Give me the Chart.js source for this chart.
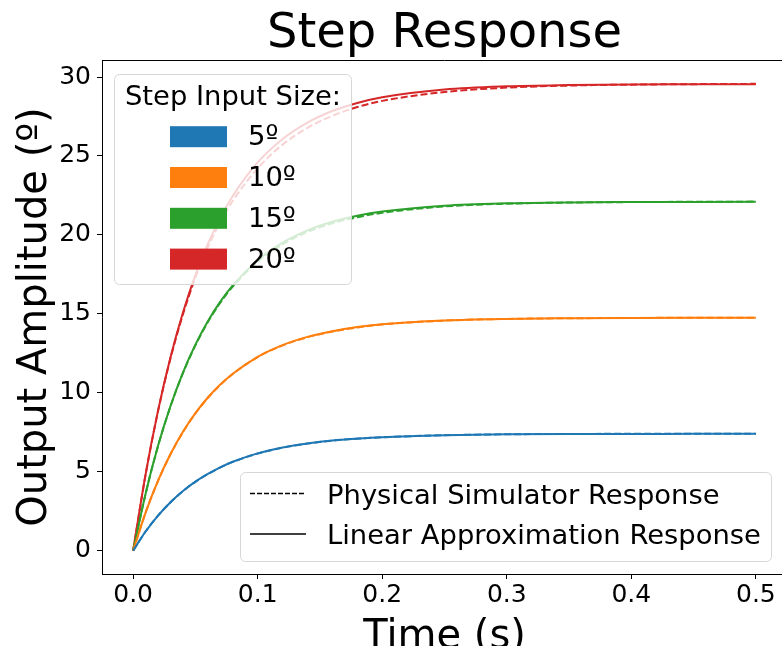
<!DOCTYPE html>
<html>
<head>
<meta charset="utf-8">
<script src="https://cdn.jsdelivr.net/npm/chart.js@4.4.1/dist/chart.umd.min.js"></script>
<style>
  html, body { margin: 0; padding: 0; background: #fff; overflow: hidden; }
  #wrap { width: 782px; height: 646px; overflow: hidden; }
  canvas { display: block; }
</style>
</head>
<body>
<div id="wrap"><canvas id="stepChart" width="800" height="680"></canvas></div>
<script>
// Tempi di campionamento (s)
const timeS = [0, 0.01, 0.02, 0.03, 0.04, 0.05, 0.06, 0.07, 0.08, 0.1, 0.12, 0.14, 0.16, 0.18, 0.2, 0.25, 0.3, 0.35, 0.4, 0.45, 0.5];

// Risposta approssimazione lineare (linea continua)
const linear5  = [0, 1.21, 2.22, 3.07, 3.78, 4.37, 4.86, 5.28, 5.63, 6.16, 6.53, 6.79, 6.98, 7.10, 7.19, 7.31, 7.37, 7.39, 7.39, 7.40, 7.40];
const linear10 = [0, 2.41, 4.43, 6.12, 7.53, 8.71, 9.70, 10.52, 11.21, 12.28, 13.02, 13.54, 13.90, 14.16, 14.34, 14.58, 14.68, 14.72, 14.74, 14.75, 14.75];
const linear15 = [0, 3.61, 6.64, 9.16, 11.28, 13.05, 14.53, 15.77, 16.80, 18.39, 19.51, 20.29, 20.83, 21.21, 21.48, 21.85, 22.00, 22.06, 22.08, 22.09, 22.10];
const linear20 = [0, 4.83, 8.87, 12.25, 15.08, 17.45, 19.43, 21.08, 22.47, 24.59, 26.08, 27.12, 27.85, 28.36, 28.72, 29.21, 29.41, 29.49, 29.53, 29.54, 29.55];

// Risposta simulatore fisico (linea tratteggiata)
const sim5  = [0, 1.21, 2.22, 3.06, 3.77, 4.36, 4.85, 5.27, 5.62, 6.15, 6.52, 6.78, 6.97, 7.09, 7.18, 7.31, 7.37, 7.39, 7.40, 7.40, 7.40];
const sim10 = [0, 2.41, 4.42, 6.10, 7.51, 8.69, 9.68, 10.50, 11.19, 12.26, 13.00, 13.52, 13.88, 14.14, 14.33, 14.57, 14.68, 14.72, 14.74, 14.75, 14.76];
const sim15 = [0, 3.61, 6.63, 9.14, 11.25, 13.01, 14.48, 15.71, 16.73, 18.30, 19.41, 20.19, 20.74, 21.12, 21.40, 21.80, 21.98, 22.05, 22.08, 22.10, 22.11];
const sim20 = [0, 4.82, 8.84, 12.18, 14.97, 17.30, 19.22, 20.82, 22.16, 24.22, 25.72, 26.78, 27.55, 28.10, 28.49, 29.05, 29.33, 29.46, 29.52, 29.55, 29.57];

const stepLabels = ['5º', '10º', '15º', '20º'];
const colors = ['#1f77b4', '#ff7f0e', '#2ca02c', '#d62728'];
const xTicks = [0, 0.1, 0.2, 0.3, 0.4, 0.5];

const linearSeries = [linear5, linear10, linear15, linear20];
const simSeries = [sim5, sim10, sim15, sim20];

const toPoints = (arr) => timeS.map((t, i) => ({ x: t, y: arr[i] }));

const datasets = [];
// tratteggiate prima: in Chart.js il primo dataset sta sopra
simSeries.forEach((s, i) => {
  datasets.push({
    label: 'Physical Simulator Response ' + stepLabels[i],
    data: toPoints(s),
    borderColor: colors[i],
    borderWidth: 2,
    borderDash: [7, 3],
    pointRadius: 0,
    cubicInterpolationMode: 'monotone',
    fill: false
  });
});
linearSeries.forEach((s, i) => {
  datasets.push({
    label: 'Linear Approximation Response ' + stepLabels[i],
    data: toPoints(s),
    borderColor: colors[i],
    borderWidth: 2,
    pointRadius: 0,
    cubicInterpolationMode: 'monotone',
    fill: false
  });
});

function roundBox(ctx, x, y, w, h, r) {
  ctx.beginPath();
  ctx.moveTo(x + r, y);
  ctx.lineTo(x + w - r, y);
  ctx.arcTo(x + w, y, x + w, y + r, r);
  ctx.lineTo(x + w, y + h - r);
  ctx.arcTo(x + w, y + h, x + w - r, y + h, r);
  ctx.lineTo(x + r, y + h);
  ctx.arcTo(x, y + h, x, y + h - r, r);
  ctx.lineTo(x, y + r);
  ctx.arcTo(x, y, x + r, y, r);
  ctx.closePath();
}

// Titolo, bordo superiore e le due legende disegnate a mano
const extrasPlugin = {
  id: 'extras',
  afterDraw(chart) {
    const ctx = chart.ctx;
    const area = chart.chartArea;
    ctx.save();

    // bordo superiore
    ctx.strokeStyle = '#000';
    ctx.lineWidth = 1;
    ctx.beginPath();
    ctx.moveTo(area.left, area.top + 0.5);
    ctx.lineTo(area.right, area.top + 0.5);
    ctx.stroke();

    // titolo
    ctx.fillStyle = '#000';
    ctx.font = '48px "DejaVu Sans"';
    ctx.textAlign = 'center';
    ctx.textBaseline = 'alphabetic';
    ctx.fillText('Step Response', (area.left + area.right) / 2, 47);

    // legenda colori
    roundBox(ctx, 114.5, 74.5, 237, 210, 5);
    ctx.fillStyle = 'rgba(255,255,255,0.8)';
    ctx.fill();
    ctx.strokeStyle = '#d6d6d6';
    ctx.stroke();

    ctx.fillStyle = '#000';
    ctx.font = '27.4px "DejaVu Sans"';
    ctx.textAlign = 'center';
    ctx.fillText('Step Input Size:', 233, 105);

    ctx.textAlign = 'left';
    stepLabels.forEach((lab, i) => {
      const yc = 136.7 + i * 40.8;
      ctx.fillStyle = colors[i];
      ctx.fillRect(170, yc - 10.5, 57, 21);
      ctx.fillStyle = '#000';
      ctx.fillText(lab, 248, yc + 8.5);
    });

    // legenda stili linea
    roundBox(ctx, 240.5, 472.5, 531, 89, 5);
    ctx.fillStyle = 'rgba(255,255,255,0.8)';
    ctx.fill();
    ctx.strokeStyle = '#d6d6d6';
    ctx.stroke();

    ctx.strokeStyle = '#000';
    ctx.lineWidth = 1.5;
    ctx.setLineDash([5, 2]);
    ctx.beginPath();
    ctx.moveTo(250, 493.5);
    ctx.lineTo(306, 493.5);
    ctx.stroke();
    ctx.setLineDash([]);
    ctx.beginPath();
    ctx.moveTo(250, 534);
    ctx.lineTo(306, 534);
    ctx.stroke();

    ctx.fillStyle = '#000';
    ctx.fillText('Physical Simulator Response', 327, 503.5);
    ctx.fillText('Linear Approximation Response', 327, 543.5);

    ctx.restore();
  }
};

Chart.defaults.font.family = '"DejaVu Sans"';
Chart.defaults.color = '#000';

const ctx = document.getElementById('stepChart').getContext('2d');
const stepChart = new Chart(ctx, {
  type: 'line',
  data: { datasets: datasets },
  options: {
    responsive: false,
    animation: false,
    layout: { padding: { top: 60, right: 13, bottom: 0, left: 0 } },
    plugins: {
      legend: { display: false },
      tooltip: { enabled: false },
      title: { display: false }
    },
    scales: {
      x: {
        type: 'linear',
        min: -0.025,
        max: 0.525,
        afterFit: (scale) => { scale.height = 106; },
        afterBuildTicks: (scale) => { scale.ticks = xTicks.map(v => ({ value: v })); },
        ticks: {
          font: { size: 25 },
          padding: 1,
          maxRotation: 0,
          callback: (v) => Number(v).toFixed(1)
        },
        grid: { drawOnChartArea: false, drawTicks: true, tickLength: 5, tickColor: '#000', tickWidth: 1 },
        border: { display: true, color: '#000', width: 1 },
        title: {
          display: true,
          text: 'Time (s)',
          font: { size: 40 },
          padding: { top: 0, bottom: 18 }
        }
      },
      y: {
        type: 'linear',
        min: -1.48,
        max: 31.08,
        afterFit: (scale) => { scale.width = 102; },
        ticks: {
          stepSize: 5,
          includeBounds: false,
          font: { size: 25 },
          padding: 6,
          callback: (v) => String(v)
        },
        grid: { drawOnChartArea: false, drawTicks: true, tickLength: 5, tickColor: '#000', tickWidth: 1 },
        border: { display: true, color: '#000', width: 1 },
        title: {
          display: true,
          text: 'Output Amplitude (º)',
          font: { size: 40 },
          padding: { top: 12, bottom: 0 }
        }
      }
    }
  },
  plugins: [extrasPlugin]
});
</script>
</body>
</html>
